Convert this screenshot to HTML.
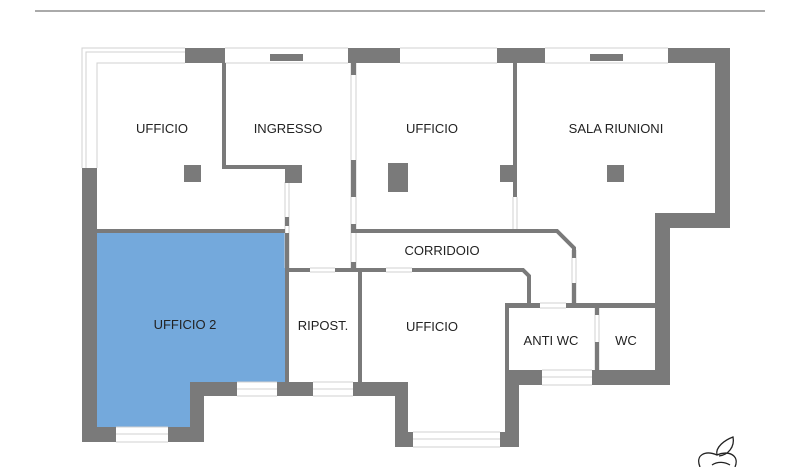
<!DOCTYPE html>
<html><head><meta charset="utf-8"><style>
html,body{margin:0;padding:0;background:#fff;width:800px;height:467px;overflow:hidden}
svg{display:block}
text{font-family:"Liberation Sans",sans-serif;font-size:13px;fill:#222}
</style></head><body>
<svg width="800" height="467" viewBox="0 0 800 467" xmlns="http://www.w3.org/2000/svg">
<line x1="35" y1="11" x2="765" y2="11" stroke="#555" stroke-width="1"/>
<!-- blue room -->
<path d="M97 233 H285 V382 H190 V427 H97 Z" fill="#74a9dc"/>
<g fill="none" stroke="#d0d0d0" stroke-width="1">
<!-- left window frame -->
<path d="M82 168 V48 H185 M86 168 V52 H185 M97 168 V63 H185"/>
<path d="M225 48 H348 M225 63 H348 M400 48 H497 M400 63 H497 M545 48 H668 M545 63 H668"/>
<path d="M116 427 H168 M116 442 H168 M116 434 H168"/>
<path d="M237 382 H277 M237 396 H277 M237 389 H277"/>
<path d="M313 382 H353 M313 396 H353 M313 389 H353"/>
<path d="M413 432 H500 M413 447 H500 M413 439 H500"/>
<path d="M542 370 H592 M542 385 H592 M542 377 H592"/>
<path d="M351 63 V268 M356 63 V268"/>
<path d="M285 182 V268 M289 182 V268"/>
<path d="M513 197 V229 M517 197 V229"/>
<path d="M572 250 V305 M576 250 V305"/>
<path d="M595 305 V370 M599 305 V370"/>
<path d="M310 268 H335 M310 272 H335 M386 268 H412 M386 272 H412 M540 303 H566 M540 308 H566"/>
</g>
<g fill="#7a7a7a">
<!-- outer walls -->
<rect x="185" y="48" width="40" height="15"/>
<rect x="270" y="54" width="33" height="7"/>
<rect x="348" y="48" width="52" height="15"/>
<rect x="497" y="48" width="48" height="15"/>
<rect x="590" y="54" width="33" height="7"/>
<rect x="668" y="48" width="62" height="15"/>
<rect x="715" y="48" width="15" height="180"/>
<rect x="655" y="213" width="75" height="15"/>
<rect x="655" y="213" width="15" height="172"/>
<rect x="592" y="370" width="78" height="15"/>
<rect x="505" y="370" width="37" height="15"/>
<rect x="505" y="370" width="14" height="77"/>
<rect x="500" y="432" width="19" height="15"/>
<rect x="395" y="432" width="18" height="15"/>
<rect x="395" y="382" width="13" height="65"/>
<rect x="353" y="382" width="55" height="14"/>
<rect x="277" y="382" width="36" height="14"/>
<rect x="190" y="382" width="47" height="14"/>
<rect x="190" y="382" width="14" height="60"/>
<rect x="168" y="427" width="36" height="15"/>
<rect x="82" y="427" width="34" height="15"/>
<rect x="82" y="168" width="15" height="274"/>
<!-- interior -->
<rect x="222" y="63" width="4" height="106"/>
<rect x="222" y="165" width="64" height="4"/>
<rect x="285" y="165" width="17" height="18"/>
<rect x="184" y="165" width="17" height="17"/>
<rect x="97" y="229" width="188" height="4"/>
<rect x="285" y="217" width="4" height="9"/>
<rect x="285" y="233" width="4" height="150"/>
<rect x="351" y="63" width="5" height="12"/>
<rect x="351" y="160" width="5" height="37"/>
<rect x="351" y="224" width="5" height="9"/>
<rect x="351" y="262" width="5" height="10"/>
<rect x="388" y="163" width="20" height="29"/>
<rect x="513" y="63" width="4" height="134"/>
<rect x="500" y="165" width="17" height="17"/>
<rect x="607" y="165" width="17" height="17"/>
<rect x="285" y="268" width="25" height="4"/>
<rect x="335" y="268" width="51" height="4"/>
<rect x="358" y="268" width="4" height="114"/>
<rect x="505" y="303" width="4" height="70"/>
<rect x="505" y="303" width="35" height="5"/>
<rect x="566" y="303" width="89" height="5"/>
<rect x="595" y="303" width="4" height="12"/>
<rect x="595" y="342" width="4" height="30"/>
<rect x="572" y="283" width="4" height="22"/>
</g>
<g fill="none" stroke="#7a7a7a" stroke-width="4">
<path d="M412 270 H523 L529 276 V305"/>
<path d="M356 231 H557 L574 248 V258"/>
</g>
<!-- logo -->
<g fill="none" stroke="#222" stroke-width="1.3">
<path d="M700 467 C695 455 705 450 717 455 C728 450 740 455 735 467"/>
<path d="M717 455 C715 447 725 440 733 437 C735 447 728 455 719 456"/>
<path d="M712 465 C718 461 725 462 730 465"/>
</g>
<text x="162" y="133" text-anchor="middle">UFFICIO</text>
<text x="288" y="133" text-anchor="middle">INGRESSO</text>
<text x="432" y="133" text-anchor="middle">UFFICIO</text>
<text x="616" y="133" text-anchor="middle">SALA RIUNIONI</text>
<text x="442" y="255" text-anchor="middle">CORRIDOIO</text>
<text x="185" y="329" text-anchor="middle">UFFICIO 2</text>
<text x="323" y="330" text-anchor="middle">RIPOST.</text>
<text x="432" y="331" text-anchor="middle">UFFICIO</text>
<text x="551" y="345" text-anchor="middle">ANTI WC</text>
<text x="626" y="345" text-anchor="middle">WC</text>
</svg>
</body></html>
